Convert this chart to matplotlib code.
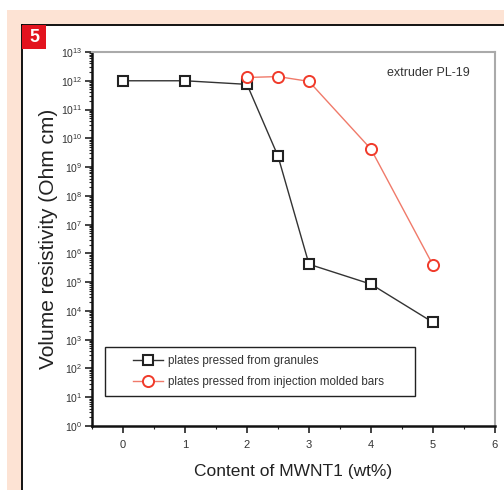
import matplotlib
matplotlib.use("Agg")
import matplotlib.pyplot as plt
import numpy as np
from matplotlib.patches import Rectangle
from matplotlib.lines import Line2D
from matplotlib.ticker import LogLocator, FixedLocator, NullFormatter

plt.rcParams['font.family'] = ['Liberation Sans', 'DejaVu Sans']
plt.rcParams['mathtext.fontset'] = 'custom'
plt.rcParams['mathtext.rm'] = 'Liberation Sans'

# Data
granules_x = [0, 1, 2, 2.5, 3, 4, 5]
granules_y = [1.0e12, 1.0e12, 7.5e11, 2.4e9, 4.2e5, 8.5e4, 4.0e3]
injection_x = [2, 2.5, 3, 4, 5]
injection_y = [1.3e12, 1.4e12, 9.5e11, 4.2e9, 3.9e5]
series_labels = ["plates pressed from granules", "plates pressed from injection molded bars"]
x_ticks = [0, 1, 2, 3, 4, 5, 6]
y_exponents = list(range(0, 14))

W, H = 504, 490
fig = plt.figure(figsize=(W / 100, H / 100), dpi=100)
fig.patch.set_facecolor('white')

def fx(px):
    return px / W

def fy(py):
    return 1 - py / H

# peach background
fig.patches.append(Rectangle((fx(7), 0), 1 - fx(7), fy(10), transform=fig.transFigure,
                             facecolor='#fde3d4', edgecolor='none', zorder=-5))
# white panel
fig.patches.append(Rectangle((fx(22), 0), 1 - fx(22), fy(25), transform=fig.transFigure,
                             facecolor='white', edgecolor='none', zorder=-4))
fig.lines.append(Line2D([fx(22), fx(22)], [0, fy(25)], transform=fig.transFigure,
                        color='black', lw=1.3, zorder=-3))
fig.lines.append(Line2D([fx(22), 1], [fy(25), fy(25)], transform=fig.transFigure,
                        color='black', lw=1.3, zorder=-3))
# red badge
fig.patches.append(Rectangle((fx(22), fy(49)), fx(24), 24 / H, transform=fig.transFigure,
                             facecolor='#e3131e', edgecolor='none', zorder=-2))
fig.text(fx(34), fy(37.5), "5", color='white', fontsize=13, fontweight='bold',
         ha='center', va='center', zorder=4)

AX_L, AX_R, AX_T, AX_B = 92, 495, 52, 426
ax = fig.add_axes([fx(AX_L), fy(AX_B), fx(AX_R) - fx(AX_L), fy(AX_T) - fy(AX_B)])
ax.set_zorder(5)
ax.set_facecolor('white')
ax.set_yscale('log')
ax.set_xlim(-0.5, 6)
ax.set_ylim(1, 1e13)

def axx(px):
    return (px - AX_L) / (AX_R - AX_L)

def axy(py):
    return (AX_B - py) / (AX_B - AX_T)

ax.plot(granules_x, granules_y, color='#333333', lw=1.0, marker='s', markersize=7,
        markerfacecolor='white', markeredgecolor='#222222', markeredgewidth=1.5,
        label=series_labels[0], zorder=3)
ax.plot(injection_x, injection_y, color='#f07a6a', lw=1.0, marker='o', markersize=8,
        markerfacecolor='white', markeredgecolor='#f03a2a', markeredgewidth=1.4,
        label=series_labels[1], zorder=4)

ax.set_xticks(x_ticks)
ax.set_xticklabels([str(t) for t in x_ticks])
ax.xaxis.set_minor_locator(FixedLocator([t + 0.5 for t in x_ticks[:-1]] + [-0.5]))
ax.set_yticks([10.0 ** e for e in y_exponents])
ax.set_yticklabels([r'$10^{%d}$' % e for e in y_exponents])
ax.yaxis.set_minor_locator(LogLocator(base=10, subs=np.arange(2, 10), numticks=100))
ax.yaxis.set_minor_formatter(NullFormatter())

ax.tick_params(axis='both', which='major', direction='out', length=5, width=1.2,
               colors='#222222', labelsize=7.5, labelcolor='#333333')
ax.tick_params(axis='both', which='minor', direction='out', length=2.5, width=0.8,
               colors='#222222')
ax.tick_params(axis='x', which='major', pad=5, labelsize=8)
ax.tick_params(axis='y', which='major', pad=2)

for side in ['left', 'bottom']:
    ax.spines[side].set_color('#111111')
    ax.spines[side].set_linewidth(1.8)
for side in ['top', 'right']:
    ax.spines[side].set_color('#aaaaaa')
    ax.spines[side].set_linewidth(1.5)

ax.set_xlabel("Content of MWNT1 (wt%)", fontsize=12.5, color='#222222', labelpad=10)
ax.set_ylabel("Volume resistivity (Ohm cm)", fontsize=15, color='#222222', labelpad=2)

ax.text(axx(470), axy(73), "extruder PL-19", transform=ax.transAxes, ha='right', va='center',
        fontsize=9, color='#333333')

# legend frame (fixed size as in the reference)
ax.add_patch(Rectangle((axx(105), axy(396)), axx(415) - axx(105), axy(347) - axy(396),
                       transform=ax.transAxes, facecolor='white', edgecolor='#222222',
                       lw=1.0, zorder=6))
leg = ax.legend(loc='center left', bbox_to_anchor=(axx(133), axy(371.5)),
                frameon=False, fontsize=8.4, handlelength=2.6,
                borderpad=0, labelspacing=0.75, borderaxespad=0, handletextpad=0.4)
leg.set_zorder(7)
for t in leg.get_texts():
    t.set_color('#333333')

fig.savefig('out.png', dpi=100, facecolor=fig.get_facecolor())
